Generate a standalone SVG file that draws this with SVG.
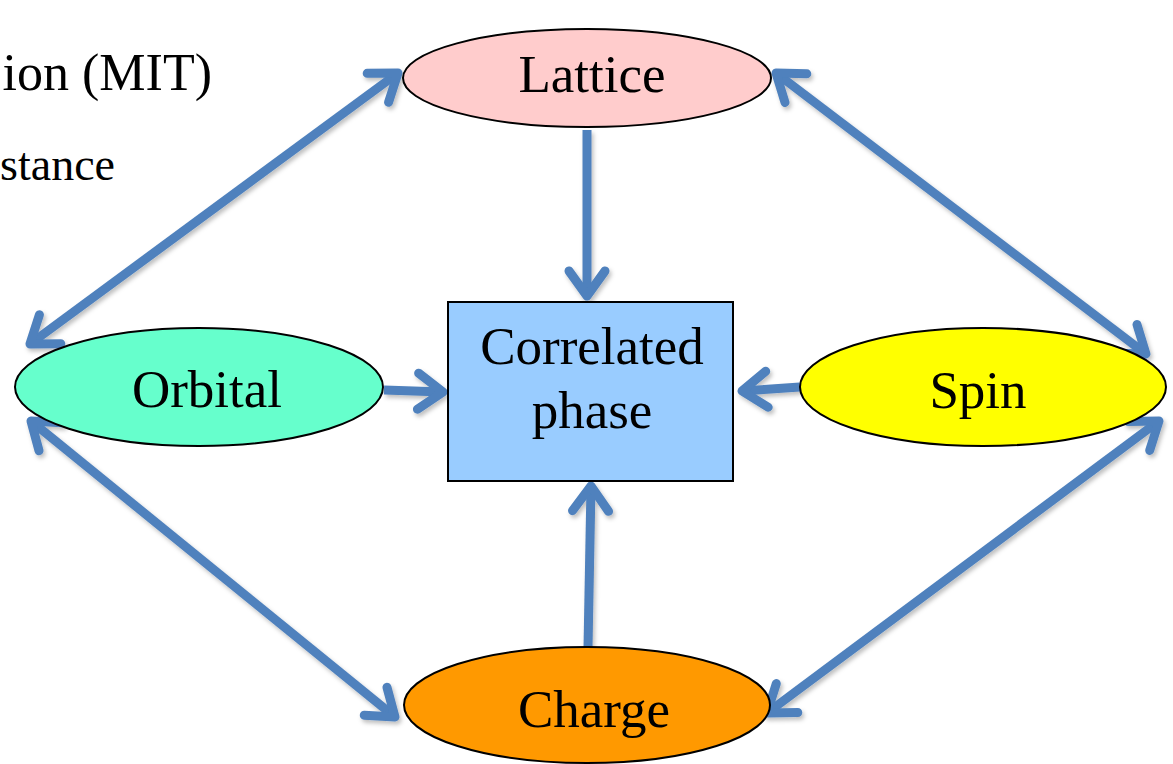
<svg xmlns="http://www.w3.org/2000/svg" width="1173" height="764" viewBox="0 0 1173 764">
<style>
.lbl{font-family:"Liberation Serif","Times New Roman",serif;font-size:53px;fill:#000;text-anchor:middle}
.side{font-family:"Liberation Serif","Times New Roman",serif;fill:#000;text-anchor:end}
.node{stroke:#000;stroke-width:2}
.conn{stroke:#4F81BD;stroke-width:9;fill:none;marker-end:url(#ah)}
.both{marker-start:url(#ah)}
</style>
<defs>
<marker id="ah" markerUnits="userSpaceOnUse" orient="auto-start-reverse" refX="0" refY="0" markerWidth="60" markerHeight="60" viewBox="-40 -30 50 60" overflow="visible">
<path d="M-25,-18 L0,0 L-25,18" fill="none" stroke="#4F81BD" stroke-width="9" stroke-linecap="round" stroke-linejoin="round"/>
</marker>
<filter id="sh" x="-10%" y="-10%" width="120%" height="120%">
<feDropShadow dx="2" dy="3" stdDeviation="2" flood-color="#000" flood-opacity="0.25"/>
</filter>
</defs>
<text class="side" x="212" y="90" font-size="52">ion (MIT)</text>
<text class="side" x="115" y="180" font-size="46">stance</text>
<g id="connectors" filter="url(#sh)">
<line class="conn both" x1="398" y1="73" x2="30" y2="344"/>
<line class="conn both" x1="776" y1="73" x2="1146" y2="354"/>
<line class="conn both" x1="31" y1="421" x2="395" y2="717"/>
<line class="conn both" x1="1159" y1="421" x2="767" y2="713"/>
<line class="conn" x1="587" y1="130" x2="587" y2="296"/>
<line class="conn" x1="384" y1="390" x2="443" y2="392"/>
<line class="conn" x1="800" y1="387" x2="742" y2="391"/>
<line class="conn" x1="588" y1="648" x2="591" y2="486"/>
</g>
<g id="lattice">
<ellipse class="node" cx="587" cy="78" rx="184" ry="49" fill="#FFCCCC"/>
<text class="lbl" x="592" y="92">Lattice</text>
</g>
<g id="orbital">
<ellipse class="node" cx="199" cy="387" rx="184" ry="59" fill="#66FFCC"/>
<text class="lbl" x="207" y="407">Orbital</text>
</g>
<g id="spin">
<ellipse class="node" cx="983" cy="387" rx="183" ry="59" fill="#FFFF00"/>
<text class="lbl" x="978" y="408">Spin</text>
</g>
<g id="charge">
<ellipse class="node" cx="587" cy="705" rx="183" ry="58" fill="#FF9900"/>
<text class="lbl" x="594" y="727">Charge</text>
</g>
<g id="correlated">
<rect class="node" x="448" y="302" width="285" height="179" fill="#99CCFF"/>
<text class="lbl" x="592" y="364">Correlated</text>
<text class="lbl" x="592" y="428">phase</text>
</g>
</svg>
